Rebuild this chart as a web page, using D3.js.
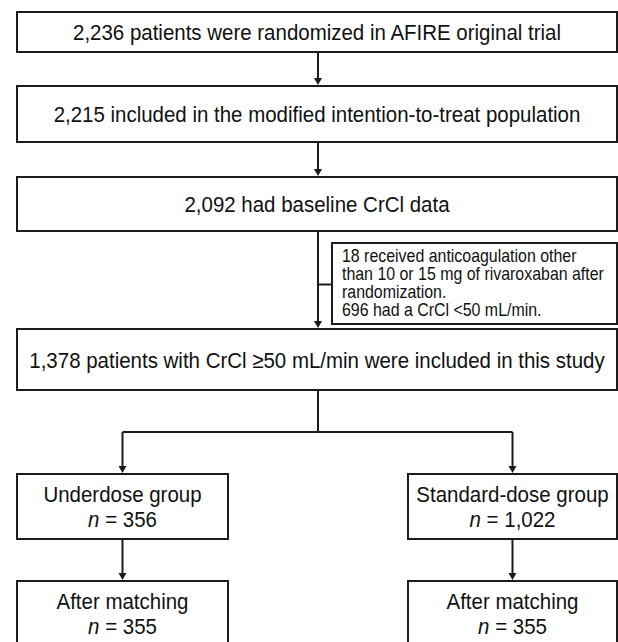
<!DOCTYPE html>
<html><head><meta charset="utf-8">
<script src="https://cdn.jsdelivr.net/npm/d3@7/dist/d3.min.js"></script>
<style>html,body{margin:0;padding:0;background:#fff;overflow:hidden}</style>
</head><body><svg id="c" width="618" height="642"></svg>
<script>
// ---- data ----
const mainSteps = [
  "2,236 patients were randomized in AFIRE original trial",
  "2,215 included in the modified intention-to-treat population",
  "2,092 had baseline CrCl data",
  "1,378 patients with CrCl \u226550 mL/min were included in this study"
];
const exclusionLines = [
  "18 received anticoagulation other",
  "than 10 or 15 mg of rivaroxaban after",
  "randomization.",
  "696 had a CrCl <50 mL/min."
];
const groups = ["Underdose group", "Standard-dose group"];
const groupN = ["356", "1,022"];
const matchedLabel = ["After matching", "After matching"];
const matchedN = ["355", "355"];

// ---- layout ----
const svg = d3.select("#c");
const ink = "#1c1c1c";
const font = "'Liberation Sans', Arial, Helvetica, sans-serif";
const sw = 2;
const squeeze = 0.91;
const midX = 318;
const mainBoxes = [
  {x0:17, x1:617, y0:12, y1:52},
  {x0:17, x1:617, y0:86, y1:142},
  {x0:17, x1:617, y0:177, y1:231},
  {x0:17, x1:617, y0:329, y1:390}
];
const sideBox = {x0:332, x1:617, y0:243, y1:324};
const groupBoxes = [
  {x0:17, x1:228, y0:474, y1:539},
  {x0:408, x1:617, y0:474, y1:539}
];
const matchBoxes = [
  {x0:17, x1:228, y0:581, y1:646},
  {x0:408, x1:617, y0:581, y1:646}
];
const branchY = 432;

const gLines = svg.append("g");
const gBoxes = svg.append("g");
const gText = svg.append("g");

function box(b){
  gBoxes.append("rect").attr("x", b.x0).attr("y", b.y0)
    .attr("width", b.x1 - b.x0).attr("height", b.y1 - b.y0)
    .attr("fill", "#fff").attr("stroke", ink).attr("stroke-width", sw);
}
function line(pts){
  gLines.append("path").attr("d", d3.line()(pts))
    .attr("fill", "none").attr("stroke", ink).attr("stroke-width", sw);
}
function arrow(x, y0, y1){
  line([[x, y0], [x, y1 - 6]]);
  gLines.append("path")
    .attr("d", d3.line()([[x - 4, y1 - 8], [x + 4, y1 - 8], [x, y1 - 1]]) + "Z")
    .attr("fill", ink);
}
function label(x, y, size, anchor){
  return gText.append("g").attr("transform", `translate(${x},${y}) scale(${squeeze},1)`)
    .append("text").attr("x", 0).attr("y", 0).attr("dy", "0.36em")
    .attr("text-anchor", anchor).attr("font-family", font)
    .attr("font-size", size).attr("fill", "#111");
}

// main boxes + texts
mainSteps.forEach((t, i) => {
  const b = mainBoxes[i];
  box(b);
  label((b.x0 + b.x1) / 2, (b.y0 + b.y1) / 2, 22.5, "middle").text(t);
});
arrow(midX, mainBoxes[0].y1, mainBoxes[1].y0);
arrow(midX, mainBoxes[1].y1, mainBoxes[2].y0);
arrow(midX, mainBoxes[2].y1, mainBoxes[3].y0);

// exclusion box
box(sideBox);
line([[midX, (sideBox.y0 + sideBox.y1) / 2 + 1], [sideBox.x0, (sideBox.y0 + sideBox.y1) / 2 + 1]]);
const lh = 18;
const sy0 = (sideBox.y0 + sideBox.y1) / 2 - lh * (exclusionLines.length - 1) / 2 - 1;
exclusionLines.forEach((t, i) => {
  label(sideBox.x0 + 10, sy0 + i * lh, 17.5, "start").text(t);
});

// branch
const gx = groupBoxes.map(b => (b.x0 + b.x1) / 2);
line([[midX, mainBoxes[3].y1], [midX, branchY]]);
line([[gx[0], branchY], [gx[1], branchY]]);
groups.forEach((g, i) => {
  arrow(gx[i], branchY, groupBoxes[i].y0);
  arrow(gx[i], groupBoxes[i].y1, matchBoxes[i].y0);
});

function twoLine(b, text1, n){
  const cx = (b.x0 + b.x1) / 2, cy = b.y0 + 32.5;
  label(cx, cy - 12.5, 22.5, "middle").text(text1);
  const t = label(cx, cy + 12.5, 22.5, "middle");
  t.append("tspan").attr("font-style", "italic").text("n");
  t.append("tspan").text(" = " + n);
}
groupBoxes.forEach((b, i) => { box(b); twoLine(b, groups[i], groupN[i]); });
matchBoxes.forEach((b, i) => { box(b); twoLine(b, matchedLabel[i], matchedN[i]); });
</script></body></html>
